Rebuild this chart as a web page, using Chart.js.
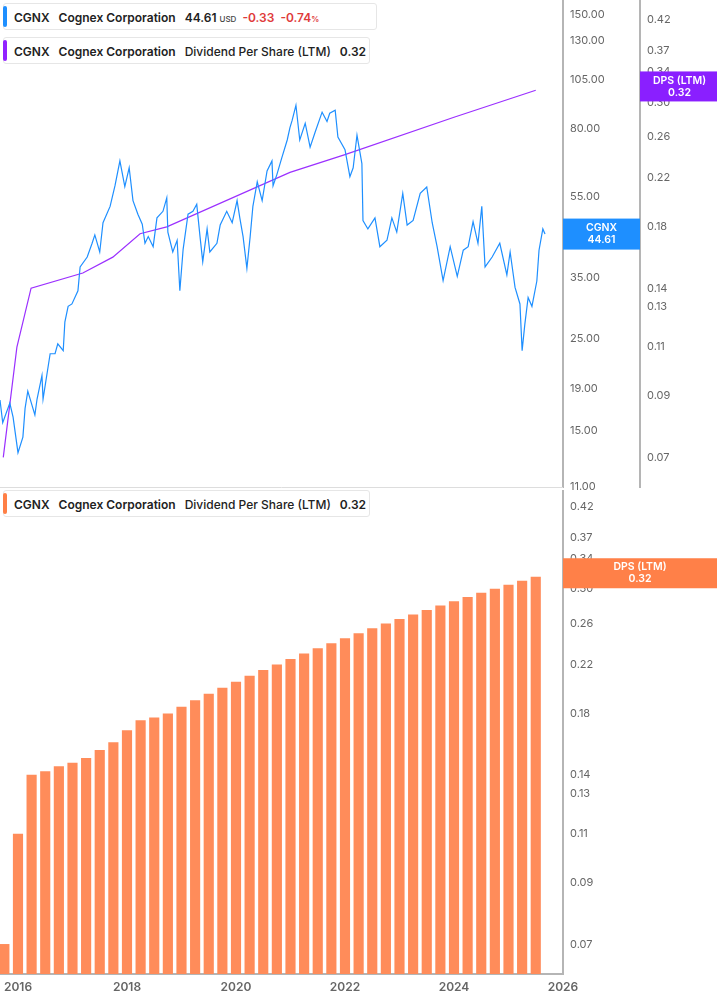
<!DOCTYPE html>
<html>
<head>
<meta charset="utf-8">
<script src="https://cdn.jsdelivr.net/npm/chart.js@4.4.1/dist/chart.umd.min.js"></script>
<style>
  body { margin: 0; background: #fff; font-family: Inter, "Noto Sans", sans-serif; }
  #wrap { position: relative; width: 717px; height: 1005px; overflow: hidden; }
  #top { position: absolute; left: 0; top: 0; }
  #bottom { position: absolute; left: 0; top: 490px; }
  .legend { position: absolute; left: 3px; height: 27px; background: #fff; border: 1px solid #e6e6e6;
    border-radius: 3px; font-size: 12px; font-weight: 600; color: #222; line-height: 27px;
    padding: 0 10px 0 10px; white-space: nowrap; box-sizing: border-box; }
  .legend::before { content: ""; position: absolute; left: -1px; top: 2px; bottom: 2px; width: 4px; border-radius: 2px; background: var(--c); }
  .legend span { margin-right: 9px; }
  .legend span span { margin-right: 0; }
  .legend .n { font-weight: 500; }
  .red { color: #e03b3b; }
  .usd { font-size: 8px; font-weight: 500; color: #444; }
</style>
</head>
<body>
<div id="wrap">
  <canvas id="top" width="717" height="495"></canvas>
  <canvas id="bottom" width="717" height="515"></canvas>
  <div class="legend" style="top:3px;width:374px;--c:#1e8fff"><span>CGNX</span><span>Cognex Corporation</span><span style="margin-right:6px">44.61 <span class="usd">USD</span></span><span class="red" style="margin-right:6px">-0.33</span><span class="red">-0.74<span style="font-size:8px">%</span></span></div>
  <div class="legend" style="top:37px;width:367px;--c:#9122ff"><span>CGNX</span><span>Cognex Corporation</span><span class="n">Dividend Per Share (LTM)</span><span>0.32</span></div>
  <div class="legend" style="top:490px;width:367px;--c:#ff7f45"><span>CGNX</span><span>Cognex Corporation</span><span class="n">Dividend Per Share (LTM)</span><span>0.32</span></div>
</div>
<script>
// price history (decimal year, USD)
const priceDates = [15.67,15.72,15.85,15.91,16.00,16.09,16.13,16.18,16.31,16.35,16.44,16.46,16.59,16.68,16.73,16.83,16.86,16.92,16.99,17.10,
  17.14,17.27,17.36,17.41,17.50,17.56,17.69,17.78,17.87,17.96,18.04,18.11,18.20,18.28,18.33,18.39,18.48,18.55,18.66,18.73,
  18.75,18.84,18.92,18.97,19.03,19.12,19.21,19.28,19.34,19.39,19.47,19.52,19.65,19.71,19.83,19.93,20.02,20.07,20.13,20.20,
  20.26,20.31,20.39,20.48,20.57,20.66,20.68,20.75,20.84,20.94,20.99,21.03,21.10,21.17,21.27,21.36,21.45,21.58,21.67,21.72,
  21.82,21.87,22.00,22.09,22.15,22.22,22.31,22.33,22.42,22.55,22.64,22.77,22.86,22.95,23.06,23.14,23.25,23.38,23.50,23.60,
  23.69,23.80,23.93,24.06,24.17,24.26,24.35,24.44,24.51,24.57,24.70,24.84,24.97,25.03,25.12,25.21,25.25,25.30,25.36,25.43,
  25.52,25.56,25.63,25.67].map(v => 2000 + v);
const prices = [17.8,15.7,17.5,16.2,13.3,14.5,17.0,18.7,16.4,17.9,20.4,17.9,23.0,23.0,24.3,23.4,27.4,29.9,30.3,32.6,
  37.2,39.3,42.4,44.4,40.4,47.5,52.0,58.3,66.9,58.0,64.4,53.7,49.8,47.1,42.4,44.0,41.6,48.8,50.6,54.5,
  45.1,40.4,43.1,32.6,41.0,49.8,50.6,52.6,44.0,38.3,45.9,40.4,42.4,46.9,50.6,47.5,53.7,48.8,44.0,36.9,
  44.0,52.0,59.6,53.7,63.3,66.9,58.3,62.0,68.0,75.1,80.4,83.7,91.0,75.1,82.4,72.2,78.3,87.6,83.2,87.1,
  88.6,76.3,71.2,61.3,64.4,77.1,65.9,48.1,45.9,48.8,41.6,43.1,48.8,45.1,55.9,46.9,48.1,55.9,57.9,47.5,
  41.6,34.5,41.6,35.3,40.8,41.6,47.8,42.4,52.0,37.2,39.3,42.4,35.6,40.4,33.2,30.3,23.4,27.1,31.4,29.9,
  34.4,40.8,45.9,44.61];

// dividend per share (LTM), quarterly
const dpsDates = [];
for (let i = 0; i < 40; i++) dpsDates.push(2015.75 + i * 0.25);
const dpsValues = [0.07,0.11,0.14,0.142,0.145,0.147,0.15,0.155,0.16,0.168,0.175,0.177,0.18,0.185,0.19,0.195,0.20,0.205,0.21,0.215,
  0.22,0.225,0.23,0.235,0.24,0.245,0.25,0.255,0.26,0.265,0.27,0.275,0.28,0.285,0.29,0.295,0.30,0.305,0.31,0.315];

// DPS line on the price panel
const dpsLineDates = [2015.73,2015.98,2016.24,2017.19,2017.74,2018.24,2018.73,2020.99,2022.0,2024.0,2025.5];
const dpsLineValues = [0.07,0.11,0.14,0.149,0.159,0.175,0.18,0.225,0.242,0.282,0.315];

const priceTicks = [11,15,19,25,35,55,80,105,130,150];
const dpsTicks = [0.07,0.09,0.11,0.13,0.14,0.18,0.22,0.26,0.30,0.34,0.37,0.42];
const yearTicks = [2016,2018,2020,2022,2024,2026];

const GREY = '#b5b5b5';
const TICKC = '#666';
const font = { family: 'Inter', size: 11 };

const badge = (ctx, x1, x2, yc, h, color, lines) => {
  ctx.save();
  ctx.fillStyle = color;
  ctx.fillRect(x1, yc - h / 2, x2 - x1, h);
  ctx.fillStyle = '#fff';
  ctx.font = '600 10.5px Inter';
  ctx.textAlign = 'center';
  ctx.textBaseline = 'middle';
  const cx = (x1 + x2) / 2;
  ctx.fillText(lines[0], cx, yc - 6);
  ctx.fillText(lines[1], cx, yc + 6);
  ctx.restore();
};

const fixTicks = (vals) => (scale) => { scale.ticks = vals.map(v => ({ value: v })); };
const fmt2 = (v) => Number(v).toFixed(2);
const fitY = (w) => (s) => { s.width = w; s.paddingTop = 0; s.paddingBottom = 0; };

new Chart(document.getElementById('top'), {
  type: 'line',
  data: {
    datasets: [{
      data: priceDates.map((d, i) => ({ x: d, y: prices[i] })),
      borderColor: '#1e8fff', borderWidth: 1.2, pointRadius: 0, tension: 0, yAxisID: 'price'
    }, {
      data: dpsLineDates.map((d, i) => ({ x: d, y: dpsLineValues[i] })),
      borderColor: '#9b30ff', borderWidth: 1.2, pointRadius: 0, tension: 0, yAxisID: 'dps'
    }]
  },
  options: {
    responsive: false, animation: false,
    layout: { padding: { bottom: 8, top: 0, left: 0, right: 0 } },
    plugins: { legend: { display: false }, tooltip: { enabled: false } },
    scales: {
      x: { type: 'linear', min: 2015.67, max: 2026, display: false },
      price: {
        type: 'logarithmic', position: 'right', min: 11, max: 163,
        afterBuildTicks: fixTicks(priceTicks),
        afterFit: fitY(77),
        grid: { display: false, tickLength: 3 },
        border: { display: true, color: GREY, width: 2 },
        ticks: { color: TICKC, font, padding: 4, callback: fmt2 }
      },
      dps: {
        type: 'logarithmic', position: 'right', min: 0.062, max: 0.456,
        afterBuildTicks: fixTicks(dpsTicks),
        afterFit: fitY(77),
        grid: { display: false, tickLength: 3 },
        border: { display: true, color: GREY, width: 2 },
        ticks: { color: TICKC, font, padding: 4, callback: fmt2 }
      }
    }
  },
  plugins: [{
    id: 'marks',
    afterDraw(chart) {
      const ctx = chart.ctx, a = chart.chartArea;
      ctx.save();
      ctx.strokeStyle = '#dddddd'; ctx.lineWidth = 1;
      ctx.beginPath(); ctx.moveTo(a.left, a.bottom + 0.5); ctx.lineTo(a.right, a.bottom + 0.5); ctx.stroke();
      ctx.restore();
      const p = chart.scales.price, d = chart.scales.dps;
      badge(ctx, p.left, p.right, p.getPixelForValue(prices[prices.length - 1]), 31, '#1e8fff', ['CGNX', '44.61']);
      badge(ctx, d.left, d.right + 2, d.getPixelForValue(0.32), 30, '#8a1fff', ['DPS (LTM)', '0.32']);
    }
  }]
});

new Chart(document.getElementById('bottom'), {
  type: 'bar',
  data: {
    datasets: [{
      data: dpsDates.map((d, i) => ({ x: d, y: dpsValues[i] })),
      backgroundColor: '#ff8c5a', barThickness: 9.5, yAxisID: 'y'
    }]
  },
  options: {
    responsive: false, animation: false,
    layout: { padding: 0 },
    plugins: { legend: { display: false }, tooltip: { enabled: false } },
    scales: {
      x: {
        type: 'linear', min: 2015.67, max: 2026, offset: false,
        afterBuildTicks: fixTicks(yearTicks),
        afterFit: (s) => { s.height = 31; s.paddingLeft = 0; s.paddingRight = 0; },
        grid: { display: false, tickLength: 4 },
        border: { display: true, color: GREY, width: 2 },
        ticks: { color: TICKC, font: { family: 'Inter', size: 12, weight: '600' }, padding: 2, maxRotation: 0, callback: (v) => String(v) }
      },
      y: {
        type: 'logarithmic', position: 'right', min: 0.062, max: 0.45,
        afterBuildTicks: fixTicks(dpsTicks),
        afterFit: fitY(154),
        grid: { display: false, tickLength: 3 },
        border: { display: true, color: GREY, width: 2 },
        ticks: { color: TICKC, font, padding: 4, callback: fmt2 }
      }
    }
  },
  plugins: [{
    id: 'marks',
    afterDraw(chart) {
      const y = chart.scales.y;
      badge(chart.ctx, y.left, y.right, y.getPixelForValue(0.32), 30, '#ff8048', ['DPS (LTM)', '0.32']);
    }
  }]
});
</script>
</body>
</html>
